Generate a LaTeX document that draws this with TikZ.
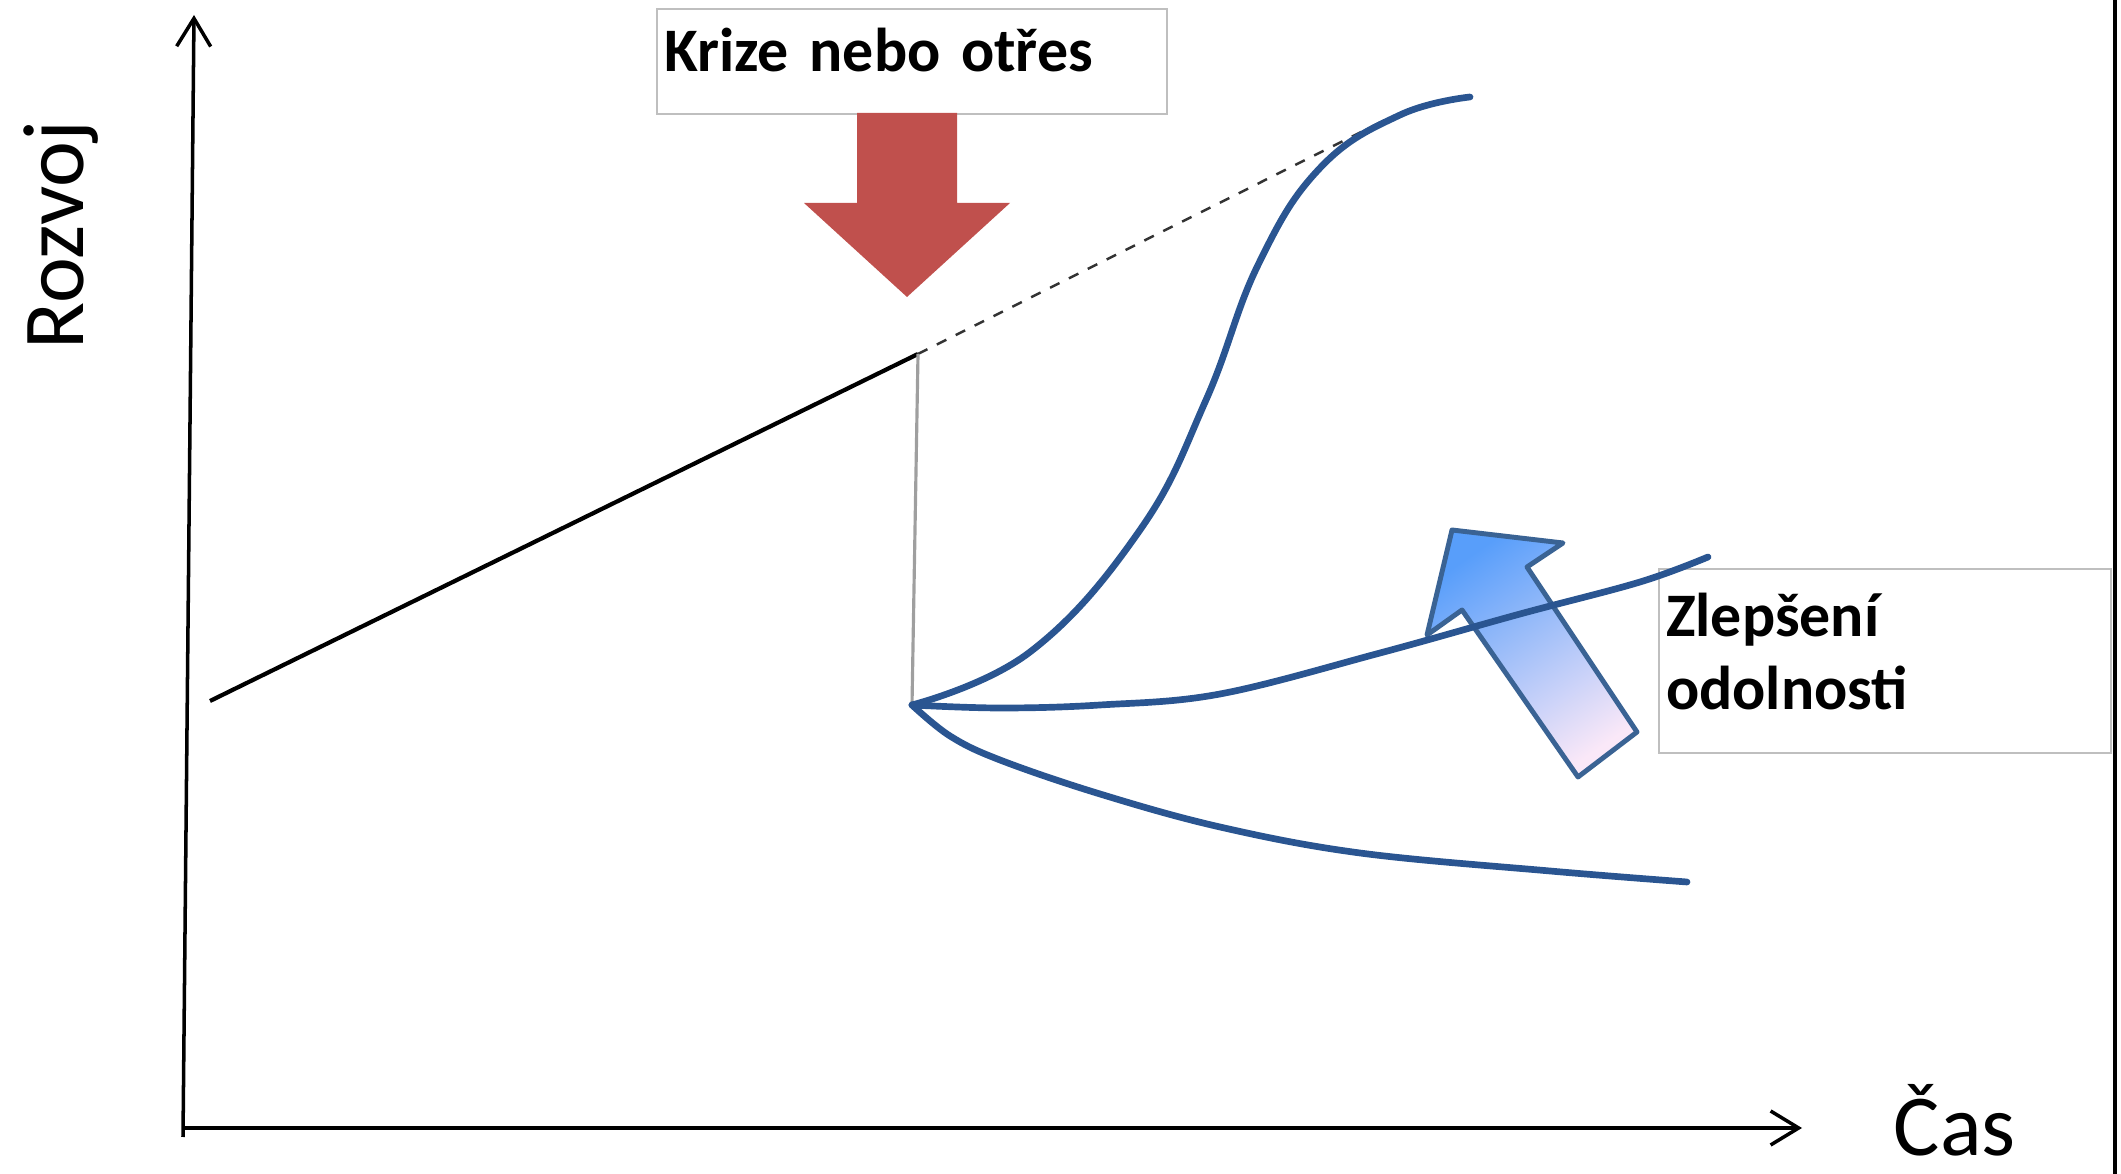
\documentclass[tikz,border=0pt]{standalone}
\usepackage{fontspec}
\setmainfont{Carlito}
\usepackage{tikz}
\usetikzlibrary{arrows.meta}
\definecolor{curveblue}{RGB}{42,85,145}
\definecolor{arrowblue}{RGB}{58,99,148}
\definecolor{shockred}{RGB}{192,80,77}
\definecolor{boxgray}{RGB}{191,191,191}

\begin{document}
\begin{tikzpicture}[x=0.01cm, y=-0.01cm]
	\tikzstyle{axisline}=[draw=black, line width=1pt, -{Straight Barb[length=0.28cm, width=0.34cm]}]
	\tikzstyle{outcome}=[draw=curveblue, line width=1.9pt, line cap=round]
	\tikzstyle{labelbox}=[draw=boxgray, line width=0.6pt, fill=white, anchor=north west, inner xsep=0.07cm, inner ysep=0pt, align=left, font=\bfseries\fontsize{17.6pt}{20.8pt}\selectfont]
	\tikzstyle{axislabel}=[anchor=base west, inner sep=0pt, text depth=0pt, font=\fontsize{24.7pt}{29pt}\selectfont]
	\useasboundingbox (0,0) rectangle (2121,1174);

	% Axes
	\coordinate (origin) at (183,1128);
	\coordinate (ybottom) at (183,1137);
	\coordinate (ytop) at (194,15);
	\coordinate (xend) at (1802,1128);
	\draw[axisline] (ybottom) -- (ytop);
	\draw[axisline] (origin) -- (xend);
	\node[axislabel, rotate=90] (ylabel) at (83,350) {Rozvoj};
	\node[axislabel] (xlabel) at (1893,1156) {Čas};

	% Growth before the shock
	\coordinate (begin) at (210,701);
	\coordinate (shock) at (918,354);
	\coordinate (trend) at (1385,120);
	\coordinate (drop) at (912,705);
	\draw[black, line width=1.2pt] (begin) -- (shock);
	\draw[black!80, line width=0.7pt, dash pattern=on 3pt off 3pt] (shock) -- (trend);
	\draw[gray!75, line width=0.9pt] (shock) -- (drop);

	% Recovery paths
	\draw[outcome] plot[smooth, tension=0.7] coordinates {(drop) (1030,652) (1140,530) (1206,400) (1258,265) (1320,168) (1400,115) (1470,97)};
	\draw[outcome] plot[smooth, tension=0.6] coordinates {(drop) (950,736) (1000,760) (1100,794) (1220,827) (1360,853) (1550,871) (1687,882)};

	% Shock
	\node[labelbox, text width=4.96cm, text height=0.62cm, text depth=0.43cm] (crisis) at (656,8) {Krize nebo otřes};
	\fill[shockred] (857,113) -- (957,113) -- (957,203) -- (1010,203) -- (907,297) -- (804,203) -- (857,203) -- cycle;

	% Resilience
	\shadedraw[draw=arrowblue, line width=1.4pt, line join=round, top color={rgb,255:red,88;green,158;blue,250}, middle color={rgb,255:red,125;green,186;blue,250}, bottom color={rgb,255:red,250;green,232;blue,248}, shading angle=34.6]
		(1452,530) -- (1563,543) -- (1527,567) -- (1637,732) -- (1578,777) -- (1462,610) -- (1427,635) -- cycle;
	\node[labelbox, text width=4.38cm, text height=0.67cm, text depth=1.17cm] (resilience) at (1658,568) {Zlepšení\\odolnosti};
	\draw[outcome] plot[smooth, tension=0.6] coordinates {(drop) (1000,708) (1100,705) (1220,694) (1380,653) (1520,614) (1640,582) (1708,557)};

	% Frame edge
	\draw[black, line width=1pt] (2115,0) -- (2115,1174);
\end{tikzpicture}
\end{document}
